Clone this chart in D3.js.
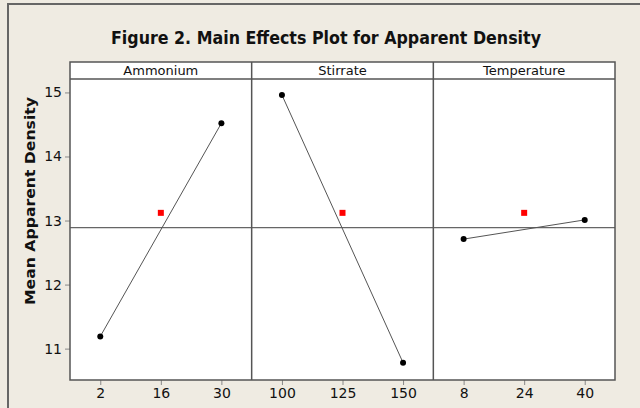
<!DOCTYPE html>
<html>
<head>
<meta charset="utf-8">
<script src="https://cdn.jsdelivr.net/npm/d3@7"></script>
<style>
  html, body { margin: 0; padding: 0; background: #efebe2; }
  svg { display: block; }
  text { font-family: "DejaVu Sans", Verdana, sans-serif; fill: #111; }
</style>
</head>
<body>
<svg id="chart" width="640" height="408"></svg>
<script>
// factors and their levels
var factors = ['Ammonium', 'Stirrate', 'Temperature'];
var levels = [['2', '16', '30'], ['100', '125', '150'], ['8', '24', '40']];
// means (end levels only, centre shown as red square)
var lowMeans = [11.19, 14.96, 12.71];
var highMeans = [14.52, 10.78, 13.01];
var centreMeans = [13.12, 13.12, 13.12];
var grandMean = 12.89;
var yTicks = [11, 12, 13, 14, 15];

(function() {
  var W = 640, H = 408;
  var plotL = 70, plotR = 615, headTop = 62, plotT = 79, plotB = 380;
  var panelW = (plotR - plotL) / factors.length;
  var font = '"DejaVu Sans", Verdana, sans-serif';

  var svg = d3.select('#chart');

  // outer frame
  svg.append('rect')
    .attr('x', 8).attr('y', 4)
    .attr('width', W + 20).attr('height', H + 20)
    .attr('fill', '#efebe2')
    .attr('stroke', '#666').attr('stroke-width', 2);

  svg.append('text')
    .attr('x', 326).attr('y', 44)
    .attr('text-anchor', 'middle')
    .attr('font-size', 17).attr('font-weight', 'bold')
    .attr('textLength', 430).attr('lengthAdjust', 'spacingAndGlyphs')
    .text('Figure 2. Main Effects Plot for Apparent Density');

  svg.append('text')
    .attr('transform', 'translate(35,201) rotate(-90)')
    .attr('text-anchor', 'middle')
    .attr('font-size', 13.5).attr('font-weight', 'bold')
    .attr('textLength', 208).attr('lengthAdjust', 'spacingAndGlyphs')
    .text('Mean Apparent Density');

  var y = d3.scaleLinear().domain([10.51, 15.21]).range([plotB, plotT]);

  // white plot + header
  svg.append('rect')
    .attr('x', plotL).attr('y', headTop)
    .attr('width', plotR - plotL).attr('height', plotB - headTop)
    .attr('fill', '#fff');

  // y axis
  var yAxis = svg.append('g')
    .attr('transform', 'translate(' + plotL + ',0)')
    .call(d3.axisLeft(y).tickValues(yTicks).tickFormat(d3.format('d')).tickSize(5).tickPadding(3));
  yAxis.select('.domain').remove();
  yAxis.selectAll('line').attr('stroke', '#888');
  yAxis.selectAll('text').attr('font-size', 14)
    .style('font-family', font).attr('fill', '#111');

  factors.forEach(function(f, i) {
    var x0 = plotL + i * panelW;
    var x = d3.scalePoint().domain(levels[i]).range([x0, x0 + panelW]).padding(0.5);
    var g = svg.append('g');

    g.append('text')
      .attr('x', x0 + panelW / 2).attr('y', 75)
      .attr('text-anchor', 'middle')
      .attr('font-size', 13)
      .text(f);

    var xa = g.append('g')
      .attr('transform', 'translate(0,' + plotB + ')')
      .call(d3.axisBottom(x).tickSize(5).tickPadding(3));
    xa.select('.domain').remove();
    xa.selectAll('line').attr('stroke', '#888');
    xa.selectAll('text').attr('font-size', 14)
      .style('font-family', font).attr('fill', '#111');

    // reference line at the grand mean
    g.append('line')
      .attr('x1', x0).attr('x2', x0 + panelW)
      .attr('y1', y(grandMean)).attr('y2', y(grandMean))
      .attr('stroke', '#666').attr('stroke-width', 1.2);

    var pts = [[levels[i][0], lowMeans[i]], [levels[i][2], highMeans[i]]];
    g.append('path')
      .attr('d', d3.line().x(function(d) { return x(d[0]); }).y(function(d) { return y(d[1]); })(pts))
      .attr('fill', 'none').attr('stroke', '#555').attr('stroke-width', 1);

    g.selectAll('circle').data(pts).enter().append('circle')
      .attr('cx', function(d) { return x(d[0]); })
      .attr('cy', function(d) { return y(d[1]); })
      .attr('r', 3).attr('fill', '#000');

    g.append('rect')
      .attr('x', x(levels[i][1]) - 3).attr('y', y(centreMeans[i]) - 3)
      .attr('width', 6).attr('height', 6)
      .attr('fill', '#ff0000');
  });

  // panel borders and header line
  var frame = svg.append('g').attr('stroke', '#555').attr('stroke-width', 1.5).attr('fill', 'none');
  frame.append('rect')
    .attr('x', plotL).attr('y', headTop)
    .attr('width', plotR - plotL).attr('height', plotB - headTop);
  frame.append('line')
    .attr('x1', plotL).attr('x2', plotR).attr('y1', plotT).attr('y2', plotT);
  for (var k = 1; k < factors.length; k++) {
    frame.append('line')
      .attr('x1', plotL + k * panelW).attr('x2', plotL + k * panelW)
      .attr('y1', headTop).attr('y2', plotB);
  }
})();
</script>
</body>
</html>
